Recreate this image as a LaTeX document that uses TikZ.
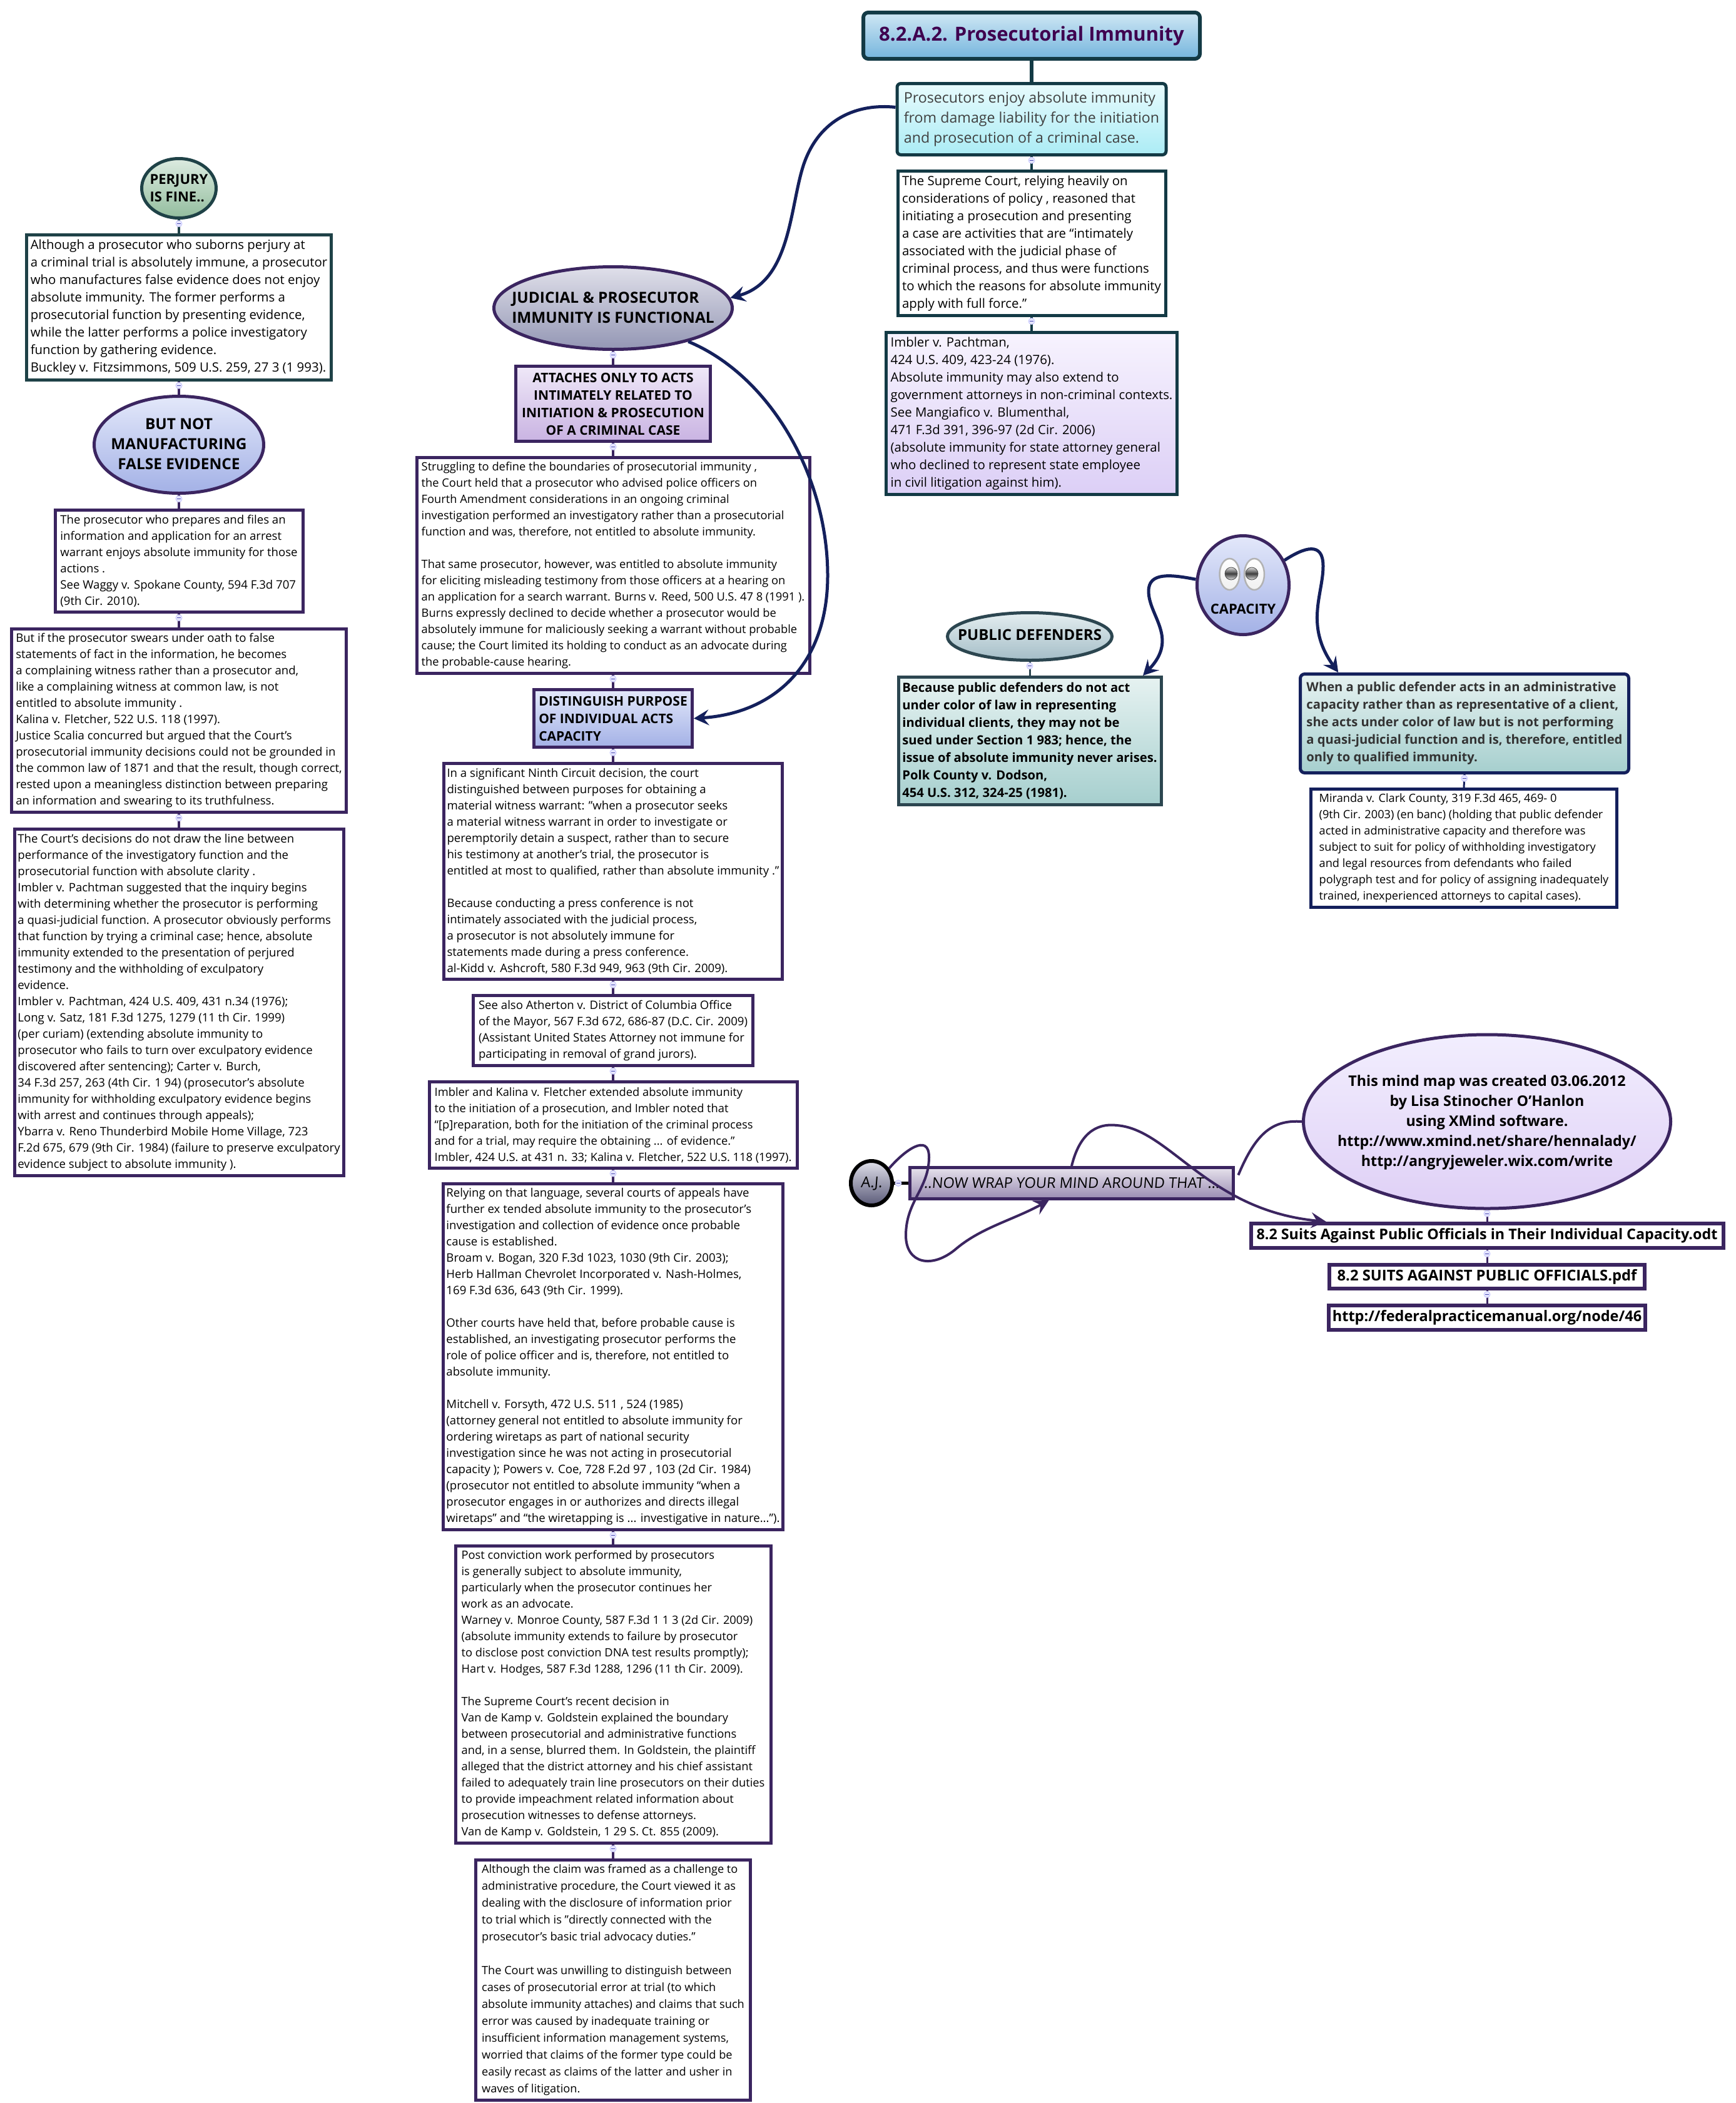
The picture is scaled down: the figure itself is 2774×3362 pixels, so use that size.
\documentclass[tikz,border=0pt]{standalone}
\usepackage{fontspec}
\setmainfont{Open Sans}
\newfontfamily\handfont[FakeSlant=0.08]{Open Sans}
\usetikzlibrary{arrows.meta,shapes.geometric}
\definecolor{teal1}{HTML}{1F4247}
\definecolor{teal2}{HTML}{133A45}
\definecolor{slate}{HTML}{2C4650}
\definecolor{plum}{HTML}{3B2560}
\definecolor{navy}{HTML}{14205C}
\definecolor{inktitle}{HTML}{3F004F}
\definecolor{perjA}{HTML}{DCEBE0}\definecolor{perjB}{HTML}{93BD9E}
\definecolor{blueA}{HTML}{E3E8FA}\definecolor{blueB}{HTML}{A3B1E6}
\definecolor{greyA}{HTML}{E0E0EA}\definecolor{greyB}{HTML}{9396B4}
\definecolor{lilaA}{HTML}{EFE8F8}\definecolor{lilaB}{HTML}{C9B3E2}
\definecolor{paleA}{HTML}{F7F3FE}\definecolor{paleB}{HTML}{DCCFF6}
\definecolor{sunA}{HTML}{CFE7F4}\definecolor{sunB}{HTML}{75B5DD}
\definecolor{aquaA}{HTML}{E8FBFD}\definecolor{aquaB}{HTML}{ABECF5}
\definecolor{steelA}{HTML}{E4EEF0}\definecolor{steelB}{HTML}{A4BDC7}
\definecolor{seaA}{HTML}{E6F2F1}\definecolor{seaB}{HTML}{A6CFCE}
\definecolor{credA}{HTML}{F2EEFE}\definecolor{credB}{HTML}{DFD0F6}
\definecolor{wrapA}{HTML}{E6E2EC}\definecolor{wrapB}{HTML}{9A8CB2}
\definecolor{ajB}{HTML}{5A5A78}
\newcommand{\fit}[2]{\raisebox{-.3em}[0pt][0pt]{\makebox[0pt]{\begin{tabular}{@{}#1@{}}#2\end{tabular}}}}
\begin{document}
\begin{tikzpicture}[x=1pt, y=-1pt,
    txt/.style={draw=plum, fill=white, line width=5pt, rectangle, align=left, inner sep=0pt},
    oval/.style={draw=plum, line width=5pt, ellipse, inner sep=0pt},
    small/.style={font=\fontsize{18.6}{26}\selectfont},
    tight/.style={font=\fontsize{18.3}{26}\selectfont},
    medium/.style={font=\fontsize{20.4}{28}\selectfont},
    heavy/.style={font=\bfseries\fontsize{21}{28}\selectfont},
    dense/.style={font=\bfseries\fontsize{20.2}{28}\selectfont},
    big/.style={font=\bfseries\fontsize{24.4}{32}\selectfont},
    file/.style={txt, line width=6pt, font=\bfseries\fontsize{23.8}{28}\selectfont},
    main/.style={line width=4.5pt, draw=plum},
    fold/.style={circle, draw=blue!20, fill=blue!10, line width=1pt, minimum size=10pt, inner sep=0pt,
        path picture={\draw[blue!40!gray, line width=.8pt] ([xshift=2pt]path picture bounding box.west) -- ([xshift=-2pt]path picture bounding box.east);}},
    curve/.style={line width=5pt, draw=navy},
    tip/.style={-{Stealth[length=24pt, width=25pt, inset=9pt]}}]
    \useasboundingbox (0,0) rectangle (2774,3362);

    \node[oval, draw=teal1, top color=perjA, bottom color=perjB, minimum width=119, minimum height=95, font=\bfseries\fontsize{22}{28}\selectfont] (perjury) at (286,301) {\fit{l}{PERJURY\\IS FINE..}};
    \node[txt, draw=teal1, font=\fontsize{20.4}{28}\selectfont, minimum width=487, minimum height=232] (buckley) at (286,491.5) {Although a prosecutor who suborns perjury at\\a criminal trial is absolutely immune, a prosecutor\\who manufactures false evidence does not enjoy\\absolute immunity. The former performs a\\prosecutorial function by presenting evidence,\\while the latter performs a police investigatory\\function by gathering evidence.\\Buckley v. Fitzsimmons, 509 U.S. 259, 27 3 (1 993).};
    \node[oval, big, top color=blueA, bottom color=blueB, minimum width=271, minimum height=155] (butnot) at (286,711) {\fit{c}{BUT NOT\\MANUFACTURING\\FALSE EVIDENCE}};
    \node[txt, small, minimum width=396, minimum height=163] (waggy) at (286,897) {The prosecutor who prepares and files an\\information and application for an arrest\\warrant enjoys absolute immunity for those\\ actions .\\See Waggy v. Spokane County, 594 F.3d 707\\(9th Cir. 2010).};
    \node[txt, small, minimum width=535, minimum height=293] (kalina) at (286,1152) {But if the prosecutor swears under oath to false\\statements of fact in the information, he becomes\\a complaining witness rather than a prosecutor and,\\like a complaining witness at common law, is not\\entitled to absolute immunity .\\Kalina v. Fletcher, 522 U.S. 118 (1997).\\Justice Scalia concurred but argued that the Court’s\\prosecutorial immunity decisions could not be grounded in\\the common law of 1871 and that the result, though correct,\\rested upon a meaningless distinction between preparing\\an information and swearing to its truthfulness.};
    \node[txt, small, minimum width=526, minimum height=554] (decisions) at (286,1602.5) {The Court’s decisions do not draw the line between\\performance of the investigatory function and the\\prosecutorial function with absolute clarity .\\Imbler v. Pachtman suggested that the inquiry begins\\with determining whether the prosecutor is performing\\a quasi-judicial function. A prosecutor obviously performs\\that function by trying a criminal case; hence, absolute\\immunity extended to the presentation of perjured\\testimony and the withholding of exculpatory\\evidence.\\Imbler v. Pachtman, 424 U.S. 409, 431 n.34 (1976);\\Long v. Satz, 181 F.3d 1275, 1279 (11 th Cir. 1999)\\(per curiam) (extending absolute immunity to\\prosecutor who fails to turn over exculpatory evidence\\discovered after sentencing); Carter v. Burch,\\34 F.3d 257, 263 (4th Cir. 1 94) (prosecutor’s absolute\\immunity for withholding exculpatory evidence begins\\with arrest and continues through appeals);\\Ybarra v. Reno Thunderbird Mobile Home Village, 723\\F.2d 675, 679 (9th Cir. 1984) (failure to preserve exculpatory\\evidence subject to absolute immunity ).};

    \node[oval, big, top color=greyA, bottom color=greyB, minimum width=381, minimum height=132] (judicial) at (980,492.5) {\fit{l}{JUDICIAL \& PROSECUTOR\\IMMUNITY IS FUNCTIONAL}};
    \node[txt, heavy, top color=lilaA, bottom color=lilaB, minimum width=311, minimum height=120, align=center] (attaches) at (980,645.5) {ATTACHES ONLY TO ACTS\\INTIMATELY RELATED TO\\INITIATION \& PROSECUTION\\OF A CRIMINAL CASE};
    \node[txt, tight, minimum width=628, minimum height=345] (burns) at (980,904) {Struggling to define the boundaries of prosecutorial immunity ,\\the Court held that a prosecutor who advised police officers on\\Fourth Amendment considerations in an ongoing criminal\\investigation performed an investigatory rather than a prosecutorial\\function and was, therefore, not entitled to absolute immunity.\\[26pt]That same prosecutor, however, was entitled to absolute immunity\\for eliciting misleading testimony from those officers at a hearing on\\an application for a search warrant. Burns v. Reed, 500 U.S. 47 8 (1991 ).\\Burns expressly declined to decide whether a prosecutor would be\\absolutely immune for maliciously seeking a warrant without probable\\cause; the Court limited its holding to conduct as an advocate during\\the probable-cause hearing.};
    \node[txt, heavy, top color=blueA, bottom color=blueB, minimum width=253, minimum height=92] (distinguish) at (980,1148.5) {DISTINGUISH PURPOSE\\OF INDIVIDUAL ACTS\\CAPACITY};
    \node[txt, small, minimum width=541, minimum height=345] (ninth) at (980,1393) {In a significant Ninth Circuit decision, the court\\distinguished between purposes for obtaining a\\material witness warrant: "when a prosecutor seeks\\a material witness warrant in order to investigate or\\peremptorily detain a suspect, rather than to secure\\his testimony at another's trial, the prosecutor is\\entitled at most to qualified, rather than absolute immunity ."\\[26pt]Because conducting a press conference is not\\intimately associated with the judicial process,\\a prosecutor is not absolutely immune for\\statements made during a press conference.\\al-Kidd v. Ashcroft, 580 F.3d 949, 963 (9th Cir. 2009).};
    \node[txt, small, minimum width=447, minimum height=112] (atherton) at (980,1647.5) {See also Atherton v. District of Columbia Office\\of the Mayor, 567 F.3d 672, 686-87 (D.C. Cir. 2009)\\(Assistant United States Attorney not immune for\\participating in removal of grand jurors).};
    \node[txt, tight, minimum width=588, minimum height=138] (imblernote) at (980,1798.5) {Imbler and Kalina v. Fletcher extended absolute immunity\\to the initiation of a prosecution, and Imbler noted that\\“[p]reparation, both for the initiation of the criminal process\\and for a trial, may require the obtaining ... of evidence.”\\Imbler, 424 U.S. at 431 n. 33; Kalina v. Fletcher, 522 U.S. 118 (1997).};
    \node[txt, small, minimum width=543, minimum height=553] (relying) at (980,2169) {Relying on that language, several courts of appeals have\\further ex tended absolute immunity to the prosecutor’s\\investigation and collection of evidence once probable\\cause is established.\\Broam v. Bogan, 320 F.3d 1023, 1030 (9th Cir. 2003);\\Herb Hallman Chevrolet Incorporated v. Nash-Holmes,\\169 F.3d 636, 643 (9th Cir. 1999).\\[26pt]Other courts have held that, before probable cause is\\established, an investigating prosecutor performs the\\role of police officer and is, therefore, not entitled to\\absolute immunity.\\[26pt]Mitchell v. Forsyth, 472 U.S. 511 , 524 (1985)\\(attorney general not entitled to absolute immunity for\\ordering wiretaps as part of national security\\investigation since he was not acting in prosecutorial\\capacity ); Powers v. Coe, 728 F.2d 97 , 103 (2d Cir. 1984)\\(prosecutor not entitled to absolute immunity “when a\\prosecutor engages in or authorizes and directs illegal\\wiretaps” and “the wiretapping is ... investigative in nature...”).};
    \node[txt, tight, minimum width=504, minimum height=475] (post) at (980,2709) {Post conviction work performed by prosecutors\\is generally subject to absolute immunity,\\particularly when the prosecutor continues her\\work as an advocate.\\Warney v. Monroe County, 587 F.3d 1 1 3 (2d Cir. 2009)\\(absolute immunity extends to failure by prosecutor\\to disclose post conviction DNA test results promptly);\\Hart v. Hodges, 587 F.3d 1288, 1296 (11 th Cir. 2009).\\[26pt]The Supreme Court's recent decision in\\Van de Kamp v. Goldstein explained the boundary\\between prosecutorial and administrative functions\\and, in a sense, blurred them. In Goldstein, the plaintiff\\alleged that the district attorney and his chief assistant\\failed to adequately train line prosecutors on their duties\\to provide impeachment related information about\\prosecution witnesses to defense attorneys.\\Van de Kamp v. Goldstein, 1 29 S. Ct. 855 (2009).};
    \node[txt, font=\fontsize{18.2}{27}\selectfont, minimum width=439, minimum height=384] (although) at (980,3165.5) {Although the claim was framed as a challenge to\\administrative procedure, the Court viewed it as\\dealing with the disclosure of information prior\\to trial which is "directly connected with the\\prosecutor's basic trial advocacy duties."\\[27pt]The Court was unwilling to distinguish between\\cases of prosecutorial error at trial (to which\\absolute immunity attaches) and claims that such\\error was caused by inadequate training or\\insufficient information management systems,\\worried that claims of the former type could be\\easily recast as claims of the latter and usher in\\waves of litigation.};

    \node[txt, draw=teal2, line width=6pt, rounded corners=8pt, top color=sunA, bottom color=sunB, text=inktitle, font=\bfseries\fontsize{31}{38}\selectfont, minimum width=538, minimum height=74] (title) at (1649,57) {8.2.A.2. Prosecutorial Immunity};
    \node[txt, draw=teal2, rounded corners=6pt, top color=aquaA, bottom color=aquaB, text=black!75, font=\fontsize{23.2}{32}\selectfont, minimum width=430, minimum height=114] (enjoy) at (1649,190.5) {Prosecutors enjoy absolute immunity\\from damage liability for the initiation\\and prosecution of a criminal case.};
    \node[txt, draw=teal2, medium, minimum width=428, minimum height=231] (supreme) at (1649,389) {The Supreme Court, relying heavily on\\considerations of policy , reasoned that\\initiating a prosecution and presenting\\a case are activities that are “intimately\\associated with the judicial phase of\\criminal process, and thus were functions\\to which the reasons for absolute immunity\\apply with full force.”};
    \node[txt, draw=teal2, medium, top color=paleA, bottom color=paleB, minimum width=465, minimum height=259] (pachtman) at (1649,661) {Imbler v. Pachtman,\\424 U.S. 409, 423-24 (1976).\\Absolute immunity may also extend to\\government attorneys in non-criminal contexts.\\See Mangiafico v. Blumenthal,\\471 F.3d 391, 396-97 (2d Cir. 2006)\\(absolute immunity for state attorney general\\who declined to represent state employee\\in civil litigation against him).};

    \node[oval, top color=blueA, bottom color=blueB, minimum width=147, minimum height=158, font=\bfseries\fontsize{22}{24}\selectfont] (capacity) at (1987,935.5) {\raisebox{-46pt}[0pt][0pt]{\makebox[0pt]{CAPACITY}}};
    \shade[top color=white, bottom color=gray!12, draw=gray!60, line width=2.5pt] (1965.5,918) ellipse [x radius=16, y radius=25];
    \shade[top color=white, bottom color=gray!12, draw=gray!60, line width=2.5pt] (2005,918) ellipse [x radius=16, y radius=25];
    \shade[top color=gray!25, bottom color=gray!25, middle color=black!75, draw=black!70, line width=.8pt] (1968,917) circle [radius=10];
    \shade[top color=gray!25, bottom color=gray!25, middle color=black!75, draw=black!70, line width=.8pt] (2001,917) circle [radius=10];
    \node[oval, draw=slate, top color=steelA, bottom color=steelB, minimum width=263, minimum height=76, font=\bfseries\fontsize{24}{26}\selectfont] (publicdef) at (1646,1017.5) {\fit{c}{PUBLIC DEFENDERS}};
    \node[txt, draw=slate, dense, top color=seaA, bottom color=seaB, minimum width=420, minimum height=204] (because) at (1646,1184.5) {Because public defenders do not act\\under color of law in representing\\individual clients, they may not be\\sued under Section 1 983; hence, the\\issue of absolute immunity never arises.\\Polk County v. Dodson,\\454 U.S. 312, 324-25 (1981).};
    \node[txt, draw=navy, dense, rounded corners=7pt, top color=seaA, bottom color=seaB, text=black!80, minimum width=525, minimum height=158] (when) at (2341,1156.5) {When a public defender acts in an administrative\\capacity rather than as representative of a client,\\she acts under color of law but is not performing\\a quasi-judicial function and is, therefore, entitled\\only to qualified immunity.};
    \node[txt, draw=navy, font=\fontsize{18.2}{26}\selectfont, minimum width=489, minimum height=189] (miranda) at (2340,1356) {Miranda v. Clark County, 319 F.3d 465, 469- 0\\(9th Cir. 2003) (en banc) (holding that public defender\\acted in administrative capacity and therefore was\\subject to suit for policy of withholding investigatory\\and legal resources from defendants who failed\\polygraph test and for policy of assigning inadequately\\trained, inexperienced attorneys to capital cases).};

    \node[oval, draw=black, line width=6pt, top color=greyA, bottom color=ajB, minimum width=66, minimum height=71, font=\handfont\fontsize{24}{28}\selectfont] (aj) at (1393,1891.5) {\fit{c}{A.J.}};
    \node[txt, top color=wrapA, bottom color=wrapB, minimum width=517, minimum height=50, font=\handfont\fontsize{23.5}{28}\selectfont] (wrap) at (1713,1891.5) {..NOW WRAP YOUR MIND AROUND THAT ...};
    \node[oval, top color=credA, bottom color=credB, minimum width=587, minimum height=278, font=\bfseries\fontsize{23.3}{32}\selectfont] (credit) at (2377,1793) {\fit{c}{This mind map was created 03.06.2012\\by Lisa Stinocher O'Hanlon\\using XMind software.\\http://www.xmind.net/share/hennalady/\\http://angryjeweler.wix.com/write}};
    \node[file, font=\bfseries\fontsize{23.3}{28}\selectfont, minimum width=755, minimum height=39] (odt) at (2377,1975.5) {8.2 Suits Against Public Officials in Their Individual Capacity.odt};
    \node[file, minimum width=504, minimum height=38] (pdf) at (2377,2041) {8.2 SUITS AGAINST PUBLIC OFFICIALS.pdf};
    \node[file, font=\bfseries\fontsize{23.5}{28}\selectfont, minimum width=506, minimum height=39] (link) at (2377,2106.5) {http://federalpracticemanual.org/node/46};

    \draw[main, draw=teal1] (perjury.south) -- (buckley.north) node[fold, pos=.3] {};
    \draw[main] (buckley.south) -- (butnot.north) node[fold, pos=.3] {};
    \draw[main] (butnot.south) -- (waggy.north) node[fold, pos=.3] {};
    \draw[main] (waggy.south) -- (kalina.north) node[fold, pos=.3] {};
    \draw[main] (kalina.south) -- (decisions.north) node[fold, pos=.3] {};
    \draw[main] (judicial.south) -- (attaches.north) node[fold, pos=.3] {};
    \draw[main] (attaches.south) -- (burns.north) node[fold, pos=.3] {};
    \draw[main] (burns.south) -- (distinguish.north) node[fold, pos=.3] {};
    \draw[main] (distinguish.south) -- (ninth.north) node[fold, pos=.3] {};
    \draw[main] (ninth.south) -- (atherton.north) node[fold, pos=.3] {};
    \draw[main] (atherton.south) -- (imblernote.north) node[fold, pos=.3] {};
    \draw[main] (imblernote.south) -- (relying.north) node[fold, pos=.3] {};
    \draw[main] (relying.south) -- (post.north) node[fold, pos=.3] {};
    \draw[main] (post.south) -- (although.north) node[fold, pos=.3] {};
    \draw[main, draw=teal2, line width=6pt] (title.south) -- (enjoy.north);
    \draw[main, draw=teal2] (enjoy.south) -- (supreme.north) node[fold, pos=.3] {};
    \draw[main, draw=teal2] (supreme.south) -- (pachtman.north) node[fold, pos=.3] {};
    \draw[main, draw=slate, line width=3pt] (publicdef.south) -- (because.north) node[fold, pos=.3] {};
    \draw[main, draw=navy, line width=3pt] (when.south) -- (miranda.north) node[fold, pos=.3] {};
    \draw[main, draw=black] (aj.east) -- (wrap.west) node[fold, pos=.3] {};
    \draw[main, line width=3pt] (credit.south) -- (odt.north) node[fold, pos=.3] {};
    \draw[main, line width=3pt] (odt.south) -- (pdf.north) node[fold, pos=.3] {};
    \draw[main, line width=3pt] (pdf.south) -- (link.north) node[fold, pos=.3] {};

    \draw[curve, tip] (enjoy.175) .. controls (1370,165) and (1310,190) .. (1285,262) .. controls (1262,330) and (1265,450) .. (judicial.5);
    \draw[curve, tip] (judicial.-24) .. controls (1230,600) and (1323,760) .. (1323,920) .. controls (1323,1060) and (1240,1140) .. (distinguish.east);
    \draw[curve, tip] (capacity.173) .. controls (1870,918) and (1836,915) .. (1836,945) .. controls (1836,985) and (1885,1020) .. (because.30);
    \draw[curve, tip] (capacity.31) .. controls (2085,875) and (2115,865) .. (2115,905) .. controls (2115,950) and (2085,1000) .. (when.158);
    \draw[curve, draw=plum, line width=4pt, tip] (aj.40) .. controls (1445,1840) and (1485,1810) .. (1485,1850) .. controls (1485,1900) and (1448,1920) .. (1448,1975) .. controls (1448,2020) and (1490,2030) .. (1530,1995) .. controls (1570,1962) and (1620,1950) .. (wrap.217);
    \draw[curve, draw=plum, line width=4pt, tip] (wrap.north) .. controls (1725,1815) and (1750,1795) .. (1785,1799) .. controls (1870,1805) and (1930,1935) .. (odt.175);
    \draw[curve, draw=plum, line width=4pt, shorten >=14pt] (credit.west) .. controls (2035,1790) and (2008,1810) .. (wrap.east);
\end{tikzpicture}
\end{document}
